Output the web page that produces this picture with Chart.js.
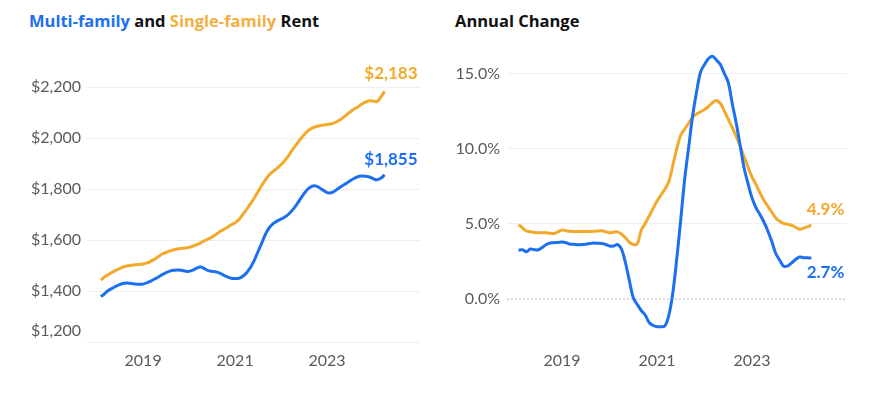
<!DOCTYPE html>
<html>
<head>
<meta charset="utf-8">
<script src="https://cdn.jsdelivr.net/npm/chart.js@4.4.1/dist/chart.umd.min.js"></script>
<style>
  body { margin: 0; background: #fff; }
  #wrap { position: relative; width: 870px; height: 400px; overflow: hidden; font-family: Lato, sans-serif; }
  .title { position: absolute; top: 10px; font-family: "Open Sans", sans-serif; font-size: 16.5px; font-weight: 700; color: #111; white-space: nowrap; line-height: 22px; }
  .multi { color: #1b6ff0; }
  .single { color: #f4af42; }
  canvas { position: absolute; top: 0; }
</style>
</head>
<body>
<div id="wrap">
  <div class="title" style="left:29px"><span class="multi">Multi-family</span> and <span class="single">Single-family</span> Rent</div>
  <div class="title" style="left:455px">Annual Change</div>
  <canvas id="rentChart" width="435" height="400" style="left:0"></canvas>
  <canvas id="changeChart" width="435" height="400" style="left:435px"></canvas>
</div>
<script>
// monthly, Feb 2018 .. Apr 2024
const firstMonth = [2018, 2];
const monthCount = 75;

const multiRent = [
  1378, 1390, 1403, 1411, 1419, 1426, 1430, 1431, 1429, 1427, 1426,
  1427, 1432, 1439, 1447, 1455, 1464, 1472, 1478, 1481, 1482, 1481, 1478,
  1477, 1482, 1490, 1494, 1488, 1480, 1477, 1475, 1470, 1462, 1455, 1450,
  1449, 1450, 1458, 1472, 1492, 1520, 1555, 1590, 1625, 1650, 1665, 1675,
  1682, 1690, 1702, 1718, 1738, 1760, 1782, 1800, 1810, 1812, 1805, 1795,
  1786, 1785, 1792, 1803, 1813, 1822, 1832, 1841, 1848, 1851, 1850, 1847,
  1841, 1836, 1842, 1855
];
const singleRent = [
  1443, 1456, 1465, 1474, 1482, 1489, 1495, 1499, 1501, 1503, 1504,
  1506, 1510, 1517, 1525, 1535, 1545, 1551, 1557, 1562, 1565, 1567, 1569,
  1571, 1576, 1582, 1589, 1597, 1604, 1612, 1622, 1632, 1641, 1650, 1660,
  1668, 1680, 1700, 1720, 1742, 1765, 1790, 1815, 1838, 1857, 1870, 1882,
  1896, 1912, 1932, 1955, 1975, 1995, 2013, 2028, 2038, 2044, 2048, 2051,
  2053, 2055, 2060, 2068, 2078, 2090, 2102, 2113, 2122, 2132, 2141, 2146,
  2145, 2143, 2160, 2183
];
const multiChange = [
  3.22, 3.25, 3.12, 3.3, 3.25, 3.25, 3.4, 3.6, 3.7, 3.72, 3.74,
  3.76, 3.72, 3.62, 3.62, 3.58, 3.6, 3.62, 3.66, 3.7, 3.68, 3.67, 3.6,
  3.5, 3.5, 3.6, 3.3, 2.4, 1.2, 0.05, -0.4, -0.8, -1.1, -1.6, -1.8,
  -1.88, -1.88, -1.82, -1.1, 0.4, 2.7, 5.3, 8.0, 10.1, 12.2, 13.8, 15.1,
  15.6, 16.0, 16.15, 15.9, 15.6, 15.0, 14.4, 13.0, 11.7, 10.2, 8.7, 7.65,
  6.7, 6.05, 5.6, 5.1, 4.5, 3.8, 3.0, 2.55, 2.15, 2.17, 2.37, 2.6,
  2.77, 2.72, 2.71, 2.7
];
const singleChange = [
  4.93, 4.7, 4.5, 4.45, 4.4, 4.38, 4.38, 4.38, 4.35, 4.33, 4.45,
  4.56, 4.52, 4.48, 4.47, 4.47, 4.46, 4.47, 4.47, 4.48, 4.5, 4.51, 4.45,
  4.38, 4.42, 4.44, 4.3, 4.05, 3.75, 3.6, 3.64, 4.55, 5.0, 5.5, 6.0,
  6.5, 6.9, 7.3, 7.8, 8.9, 10.0, 10.9, 11.3, 11.7, 12.1, 12.3, 12.45,
  12.6, 12.8, 13.05, 13.2, 13.0, 12.5, 11.95, 11.4, 10.8, 10.15, 9.45, 8.75,
  8.1, 7.6, 7.05, 6.55, 6.15, 5.75, 5.37, 5.15, 5.0, 4.95, 4.88, 4.75,
  4.62, 4.68, 4.78, 4.9
];
const yearTicks = [2019, 2021, 2023];
const rentTicks = [1200, 1400, 1600, 1800, 2000, 2200];
const changeTicks = [0, 5, 10, 15];

const BLUE = '#1b6ff0';
const ORANGE = '#f2a92c';
const TICK_FONT = { family: 'Lato', size: 16 };
const TICK_COLOR = '#5a5a5a';

// decimal year for each month
const months = [];
for (let i = 0; i < monthCount; i++) {
  const m = firstMonth[1] - 1 + i;
  months.push(firstMonth[0] + Math.floor(m / 12) + (m % 12) / 12);
}
const toPoints = (vals) => vals.map((v, i) => ({ x: months[i], y: v }));

// value label at the end of each line
const endLabels = {
  id: 'endLabels',
  afterDatasetsDraw(chart) {
    const ctx = chart.ctx;
    chart.data.datasets.forEach((ds, i) => {
      const pts = chart.getDatasetMeta(i).data;
      const last = pts[pts.length - 1];
      const v = ds.data[ds.data.length - 1].y;
      ctx.save();
      ctx.font = 'bold 17px Lato';
      ctx.fillStyle = ds.borderColor;
      ctx.textAlign = 'right';
      ctx.textBaseline = 'middle';
      ctx.fillText(ds.endFormat(v), last.x + 33, last.y + ds.endDy);
      ctx.restore();
    });
  }
};

// lowest rent tick sits above its line
const liftedMinTick = {
  id: 'liftedMinTick',
  afterDraw(chart) {
    const y = chart.scales.y;
    if (!chart.options.plugins.liftedMinTick) return;
    const ctx = chart.ctx;
    ctx.save();
    ctx.font = '16px Lato';
    ctx.fillStyle = TICK_COLOR;
    ctx.textAlign = 'right';
    ctx.textBaseline = 'middle';
    ctx.fillText(y.options.ticks.callback(y.min, 0, [], true), y.right - 6, y.getPixelForValue(y.min) - 11);
    ctx.restore();
  }
};

// dotted zero line
const zeroLine = {
  id: 'zeroLine',
  beforeDatasetsDraw(chart) {
    if (!chart.options.plugins.zeroLine) return;
    const y = chart.scales.y.getPixelForValue(0);
    const a = chart.chartArea;
    const ctx = chart.ctx;
    ctx.save();
    ctx.strokeStyle = '#b8b8b8';
    ctx.lineWidth = 1;
    ctx.setLineDash([2, 2]);
    ctx.beginPath();
    ctx.moveTo(a.left, y + 0.5);
    ctx.lineTo(a.right, y + 0.5);
    ctx.stroke();
    ctx.restore();
  }
};

function xScale(min, max) {
  return {
    type: 'linear', min: min, max: max,
    afterBuildTicks: (s) => { s.ticks = yearTicks.map(v => ({ value: v })); },
    afterFit: (s) => { s.height = 40; },
    grid: { display: false },
    border: { display: false },
    ticks: { font: TICK_FONT, color: TICK_COLOR, padding: 1, maxRotation: 0, callback: v => String(v) }
  };
}

function lineSet(label, vals, color, fmt, dy) {
  return {
    label: label, data: toPoints(vals), borderColor: color, borderWidth: 3,
    pointRadius: 0, tension: 0.35, fill: false, endFormat: fmt, endDy: dy
  };
}

const money = v => '$' + v.toLocaleString('en-US');
const pct = v => v.toFixed(1) + '%';

new Chart(document.getElementById('rentChart'), {
  type: 'line',
  data: {
    datasets: [
      lineSet('Multi-family', multiRent, BLUE, money, -15),
      lineSet('Single-family', singleRent, ORANGE, money, -18)
    ]
  },
  options: {
    responsive: false, animation: false,
    layout: { padding: { left: 0, right: 15, top: 61.5, bottom: 18 } },
    plugins: { legend: { display: false }, tooltip: { enabled: false }, liftedMinTick: true },
    scales: {
      x: xScale(2017.78, 2025.02),
      y: {
        min: 1200, max: 2300,
        afterBuildTicks: (s) => { s.ticks = rentTicks.map(v => ({ value: v })); },
        afterFit: (s) => { s.width = 87; },
        grid: { color: '#efefef', drawTicks: false },
        border: { display: false },
        ticks: {
          font: TICK_FONT, color: TICK_COLOR, padding: 6,
          callback: (v, i, t, raw) => (v === 1200 && !raw) ? '' : money(v)
        }
      }
    }
  },
  plugins: [endLabels, liftedMinTick]
});

new Chart(document.getElementById('changeChart'), {
  type: 'line',
  data: {
    datasets: [
      lineSet('Multi-family', multiChange, BLUE, pct, 15),
      lineSet('Single-family', singleChange, ORANGE, pct, -15)
    ]
  },
  options: {
    responsive: false, animation: false,
    layout: { padding: { left: 0, right: 23, top: 51, bottom: 18 } },
    plugins: { legend: { display: false }, tooltip: { enabled: false }, zeroLine: true },
    scales: {
      x: xScale(2017.84, 2025.0),
      y: {
        min: -2.9, max: 16.5,
        afterBuildTicks: (s) => { s.ticks = changeTicks.map(v => ({ value: v })); },
        afterFit: (s) => { s.width = 72; },
        grid: { color: (c) => c.tick && c.tick.value === 0 ? 'rgba(0,0,0,0)' : '#efefef', drawTicks: false },
        border: { display: false },
        ticks: { font: TICK_FONT, color: TICK_COLOR, padding: 7, callback: v => pct(v) }
      }
    }
  },
  plugins: [endLabels, zeroLine]
});
</script>
</body>
</html>
